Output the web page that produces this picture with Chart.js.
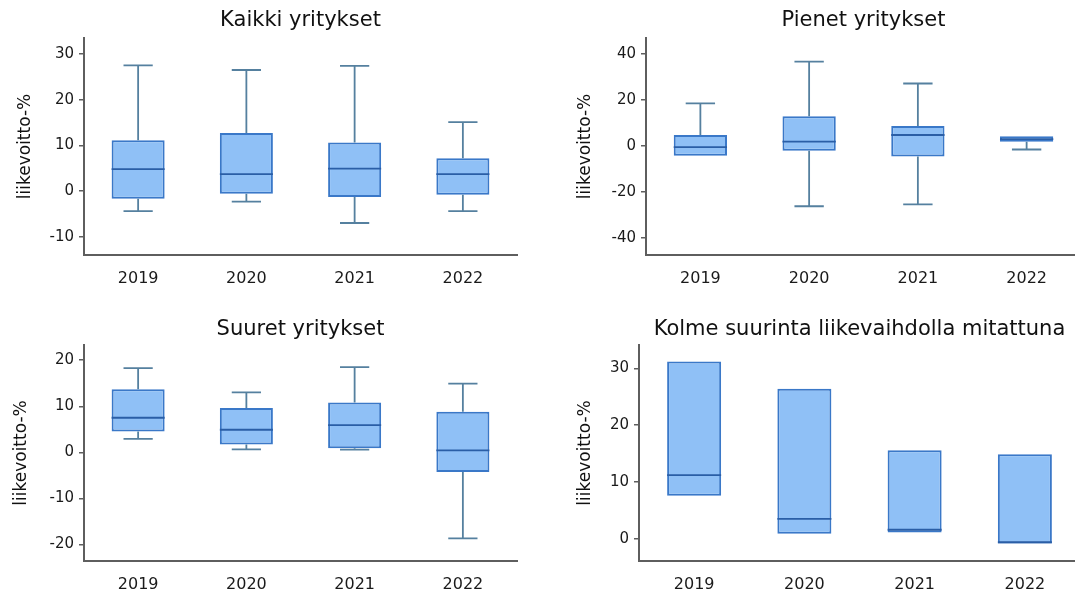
<!DOCTYPE html>
<html><head><meta charset="utf-8">
<script src="https://cdn.jsdelivr.net/npm/chart.js@4.4.1/dist/chart.umd.min.js"></script>
<style>
html,body{margin:0;padding:0;background:#fff;overflow:hidden;width:1075px;height:591px;position:relative;}
.p{position:absolute;}
</style></head><body>
<div class="p" style="left:0;top:0;width:540px;height:295px"><canvas id="c1"></canvas></div>
<div class="p" style="left:562px;top:0;width:542px;height:295px"><canvas id="c2"></canvas></div>
<div class="p" style="left:0;top:307px;width:540px;height:294px"><canvas id="c3"></canvas></div>
<div class="p" style="left:555px;top:307px;width:548px;height:294px"><canvas id="c4"></canvas></div>
<script>
// ---------- data ----------
const categories = ['2019', '2020', '2021', '2022'];
const yTitle = 'liikevoitto-%';

// Kaikki yritykset
const allMin = [-4.4, -2.3, -7.0, -4.4];
const allQ1  = [-1.7, -0.6, -1.3, -0.8];
const allMed = [4.8, 3.7, 4.9, 3.7];
const allQ3  = [11.1, 12.7, 10.6, 7.2];
const allMax = [27.5, 26.5, 27.4, 15.1];
const allTicks = [-10, 0, 10, 20, 30];

// Pienet yritykset
const smallMin = [-4.2, -26.2, -25.4, -1.5];
const smallQ1  = [-4.2, -2.0, -4.6, 1.9];
const smallMed = [-0.5, 1.9, 4.8, 3.0];
const smallQ3  = [4.8, 13.0, 8.7, 4.3];
const smallMax = [18.6, 36.7, 27.2, 4.3];
const smallTicks = [-40, -20, 0, 20, 40];

// Suuret yritykset
const largeMin = [2.9, 0.65, 0.6, -18.7];
const largeQ1  = [4.5, 1.7, 0.9, -4.3];
const largeMed = [7.5, 4.9, 5.9, 0.4];
const largeQ3  = [13.7, 9.6, 10.8, 8.8];
const largeMax = [18.3, 13.0, 18.5, 14.9];
const largeTicks = [-20, -10, 0, 10, 20];

// Kolme suurinta liikevaihdolla mitattuna
const top3Min = [7.6, 0.9, 1.1, -0.8];
const top3Med = [11.2, 3.5, 1.6, -0.6];
const top3Max = [31.2, 26.4, 15.6, 14.9];
const top3Ticks = [0, 10, 20, 30];

// ---------- drawing ----------
const FONT = "'DejaVu Sans', sans-serif";
const FILL = '#8fc0f6';
const BORDER = '#3a78c8';
const MEDIAN = '#2a5ea6';
const WHISK = '#55809f';
const AXIS = '#5e5e5e';

function boxPlugin(mins, meds, maxs, q1s, q3s) {
  return {
    id: 'boxWhiskers',
    afterDatasetsDraw(chart) {
      const ctx = chart.ctx;
      const x = chart.scales.x, y = chart.scales.y;
      const meta = chart.getDatasetMeta(0);
      const catW = x.getPixelForValue(1) - x.getPixelForValue(0);
      const capHalf = catW * 0.135;
      ctx.save();
      ctx.lineWidth = 1.8;
      categories.forEach((c, i) => {
        const bar = meta.data[i];
        const cx = bar.x;
        const half = bar.width / 2;
        ctx.strokeStyle = WHISK;
        if (maxs[i] > q3s[i]) {
          ctx.beginPath();
          ctx.moveTo(cx, y.getPixelForValue(q3s[i]));
          ctx.lineTo(cx, y.getPixelForValue(maxs[i]));
          ctx.moveTo(cx - capHalf, y.getPixelForValue(maxs[i]));
          ctx.lineTo(cx + capHalf, y.getPixelForValue(maxs[i]));
          ctx.stroke();
        }
        if (mins[i] < q1s[i]) {
          ctx.beginPath();
          ctx.moveTo(cx, y.getPixelForValue(q1s[i]));
          ctx.lineTo(cx, y.getPixelForValue(mins[i]));
          ctx.moveTo(cx - capHalf, y.getPixelForValue(mins[i]));
          ctx.lineTo(cx + capHalf, y.getPixelForValue(mins[i]));
          ctx.stroke();
        }
        ctx.strokeStyle = MEDIAN;
        ctx.beginPath();
        const my = y.getPixelForValue(meds[i]);
        ctx.moveTo(cx - half, my);
        ctx.lineTo(cx + half, my);
        ctx.stroke();
      });
      ctx.restore();
    }
  };
}

function makeChart(id, title, q1s, q3s, mins, meds, maxs, yMin, yMax, yTicks, titlePad, yTitlePad) {
  new Chart(document.getElementById(id), {
    type: 'bar',
    data: {
      labels: categories,
      datasets: [{
        data: categories.map((c, i) => [q1s[i], q3s[i]]),
        backgroundColor: FILL,
        borderColor: BORDER,
        borderWidth: 2,
        borderSkipped: false,
        barPercentage: 0.49,
        categoryPercentage: 1
      }]
    },
    options: {
      responsive: true,
      maintainAspectRatio: false,
      animation: false,
      layout: { padding: { left: 0, right: 23, top: 0, bottom: 0 } },
      plugins: {
        legend: { display: false },
        tooltip: { enabled: false },
        title: {
          display: true, text: title, fullSize: false, color: '#111',
          font: { family: FONT, size: 21, weight: 'normal', lineHeight: 1.2 },
          padding: titlePad
        }
      },
      scales: {
        x: {
          grid: { display: false },
          border: { display: true, color: AXIS, width: 2 },
          ticks: { color: '#1a1a1a', padding: 6, font: { family: FONT, size: 16 } },
          afterFit: s => { s.height = 40; }
        },
        y: {
          min: yMin, max: yMax,
          grid: { drawOnChartArea: false, drawTicks: true, tickLength: 5, color: AXIS, lineWidth: 1.5 },
          border: { display: true, color: AXIS, width: 2 },
          ticks: { color: '#1a1a1a', padding: 5, font: { family: FONT, size: 15 } },
          afterBuildTicks: s => { s.ticks = yTicks.map(v => ({ value: v })); },
          afterFit: s => { s.width = 84; },
          title: {
            display: true, text: yTitle, color: '#111',
            font: { family: FONT, size: 17, weight: 'normal', lineHeight: 1.2 },
            padding: { top: yTitlePad, bottom: 0 }
          }
        }
      }
    },
    plugins: [boxPlugin(mins, meds, maxs, q1s, q3s)]
  });
}

makeChart('c1', 'Kaikki yritykset', allQ1, allQ3, allMin, allMed, allMax, -14, 33.5, allTicks, { top: 8, bottom: 4.8 }, 15);
makeChart('c2', 'Pienet yritykset', smallQ1, smallQ3, smallMin, smallMed, smallMax, -47.4, 47, smallTicks, { top: 8, bottom: 4.8 }, 13);
makeChart('c3', 'Suuret yritykset', largeQ1, largeQ3, largeMin, largeMed, largeMax, -23.6, 23.3, largeTicks, { top: 10, bottom: 2.8 }, 11);
makeChart('c4', 'Kolme suurinta liikevaihdolla mitattuna', top3Min, top3Max, top3Min, top3Med, top3Max, -3.9, 34.1, top3Ticks, { top: 10, bottom: 2.8 }, 20);
</script>
</body></html>
